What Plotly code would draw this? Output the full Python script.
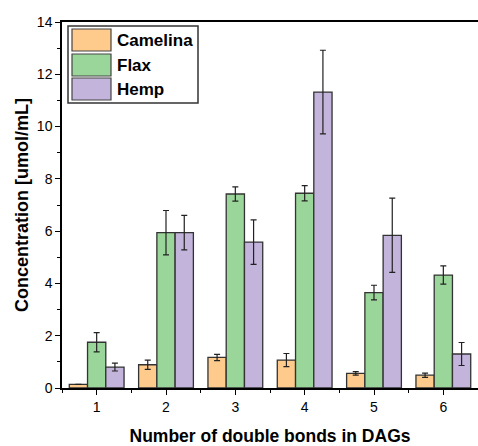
import plotly.graph_objects as go

# Data: DAG concentrations by number of double bonds
categories = [1, 2, 3, 4, 5, 6]
series_names = ["Camelina", "Flax", "Hemp"]
camelina = [0.14, 0.89, 1.17, 1.07, 0.56, 0.49]
camelina_err = [0.0, 0.18, 0.12, 0.25, 0.07, 0.08]
flax = [1.75, 5.94, 7.42, 7.45, 3.65, 4.32]
flax_err = [0.37, 0.85, 0.27, 0.29, 0.28, 0.35]
hemp = [0.80, 5.94, 5.58, 11.32, 5.84, 1.30]
hemp_err = [0.15, 0.66, 0.85, 1.60, 1.42, 0.44]

colors = ["#FFCB8C", "#9AD69A", "#C2B4DA"]
values = [camelina, flax, hemp]
errors = [camelina_err, flax_err, hemp_err]

W, H = 478, 446
ML, MR, MT, MB = 62, 0, 22, 58
FONT = "Liberation Sans, Arial, sans-serif"

fig = go.Figure()
for name, vals, errs, col in zip(series_names, values, errors, colors):
    fig.add_trace(go.Bar(
        x=categories, y=vals, name=name,
        marker=dict(color=col, line=dict(color="#333333", width=1.3)),
        error_y=dict(type="data", array=errs, visible=True,
                     color="#222222", thickness=1.2, width=3),
        showlegend=False,
    ))


def px_x(p):
    return (p - ML) / (W - ML - MR)


def px_y(p):
    return (H - MB - p) / (H - MT - MB)


# Legend box drawn as shapes + text
shapes = [dict(type="rect", xref="paper", yref="paper",
               x0=px_x(68), x1=px_x(198), y0=px_y(103), y1=px_y(26),
               line=dict(color="#333333", width=1.5), fillcolor="white", layer="above")]
annotations = []
rows = [(29, 51), (54, 76), (78, 100)]
for name, col, (t, b) in zip(series_names, colors, rows):
    shapes.append(dict(type="rect", xref="paper", yref="paper",
                       x0=px_x(72), x1=px_x(111), y0=px_y(b), y1=px_y(t),
                       line=dict(color="#444444", width=1.2), fillcolor=col, layer="above"))
    annotations.append(dict(xref="paper", yref="paper", x=px_x(115), y=px_y((t + b) / 2),
                            text="<b>%s</b>" % name, showarrow=False,
                            xanchor="left", yanchor="middle",
                            font=dict(family=FONT, size=17, color="black")))

fig.update_layout(
    width=W, height=H,
    margin=dict(l=ML, r=MR, t=MT, b=MB, pad=0),
    paper_bgcolor="white", plot_bgcolor="white",
    barmode="group", bargap=0.21, bargroupgap=0,
    font=dict(family=FONT, size=14, color="black"),
    shapes=shapes, annotations=annotations,
    xaxis=dict(
        range=[0.5, 6.5], tickmode="array", tickvals=categories,
        ticktext=[str(c) for c in categories],
        ticks="outside", ticklen=5, tickwidth=1.3, tickcolor="black",
        minor=dict(tick0=0.5, dtick=1, ticks="outside", ticklen=3, tickcolor="black", tickwidth=1.2),
        showline=True, linecolor="black", linewidth=1.5, mirror=True,
        showgrid=False, zeroline=False,
        tickfont=dict(size=14),
        title=dict(text="<b>Number of double bonds in DAGs</b>", font=dict(size=17.5), standoff=16),
    ),
    yaxis=dict(
        range=[0, 14], dtick=2, tick0=0,
        ticks="outside", ticklen=5, tickwidth=1.3, tickcolor="black",
        minor=dict(dtick=1, ticks="outside", ticklen=3, tickcolor="black", tickwidth=1.2),
        showline=True, linecolor="black", linewidth=1.5,
        showgrid=False, zeroline=False,
        tickfont=dict(size=14),
        title=dict(text="<b>Concentration [umol/mL]</b>", font=dict(size=18), standoff=4),
    ),
)

fig.write_html("out.html")
